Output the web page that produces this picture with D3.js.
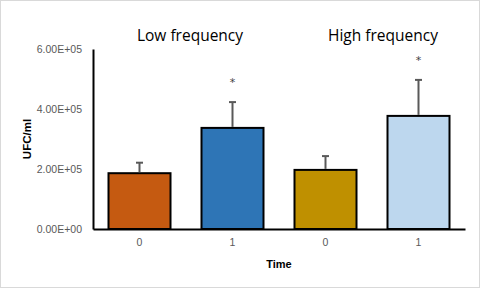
<!DOCTYPE html>
<html>
<head>
<meta charset="utf-8">
<script src="https://cdn.jsdelivr.net/npm/d3@7"></script>
<style>
  body { margin: 0; background: #fff; }
  svg { display: block; }
</style>
</head>
<body>
<svg id="chart" width="480" height="288"></svg>
<script>
const categories = ["0", "1", "0", "1"];
const groups = ["Low frequency", "High frequency"];
const values = [1.86e5, 3.37e5, 1.97e5, 3.77e5];
const errors = [0.35e5, 0.86e5, 0.46e5, 1.2e5];
const significant = [false, true, false, true];
const colors = ["#C55A11", "#2E75B6", "#BF9000", "#BDD7EE"];
const yTicks = [0, 2e5, 4e5, 6e5];

const w = 480, h = 288;
const margin = { top: 49, right: 15, bottom: 59, left: 93 };

const svg = d3.select("#chart");

// outer border like the spreadsheet chart area
svg.append("rect")
    .attr("x", 0.5).attr("y", 0.5)
    .attr("width", w - 1).attr("height", h - 1)
    .attr("fill", "#fff")
    .attr("stroke", "#d9d9d9");

const x = d3.scaleBand()
    .domain(d3.range(values.length))
    .range([margin.left, w - margin.right])
    .paddingInner(1 / 3)
    .paddingOuter(1 / 6);

const y = d3.scaleLinear()
    .domain([0, 6e5])
    .range([h - margin.bottom, margin.top]);

const chart = svg.append("g");

// --- bars ---
chart.selectAll("rect.bar")
    .data(values)
    .join("rect")
    .attr("class", "bar")
    .attr("x", (d, i) => x(i))
    .attr("y", d => y(d))
    .attr("width", x.bandwidth())
    .attr("height", d => y(0) - y(d))
    .attr("fill", (d, i) => colors[i])
    .attr("stroke", "#000")
    .attr("stroke-width", 2);

// --- error bars (upper only) ---
const err = chart.selectAll("g.err")
    .data(values)
    .join("g")
    .attr("class", "err");

err.append("line")
    .attr("x1", (d, i) => x(i) + x.bandwidth() / 2)
    .attr("x2", (d, i) => x(i) + x.bandwidth() / 2)
    .attr("y1", d => y(d) - 1)
    .attr("y2", (d, i) => y(d + errors[i]))
    .attr("stroke", "#595959")
    .attr("stroke-width", 2);

err.append("line")
    .attr("x1", (d, i) => x(i) + x.bandwidth() / 2 - 3.5)
    .attr("x2", (d, i) => x(i) + x.bandwidth() / 2 + 3.5)
    .attr("y1", (d, i) => y(d + errors[i]))
    .attr("y2", (d, i) => y(d + errors[i]))
    .attr("stroke", "#595959")
    .attr("stroke-width", 2);

// --- significance asterisks ---
chart.selectAll("text.sig")
    .data(values.map((d, i) => ({ d, i })).filter(o => significant[o.i]))
    .join("text")
    .attr("class", "sig")
    .attr("x", o => x(o.i) + x.bandwidth() / 2)
    .attr("y", o => y(o.d + errors[o.i]) - 16)
    .attr("text-anchor", "middle")
    .attr("font-family", "DejaVu Sans, sans-serif")
    .attr("font-size", 11)
    .attr("fill", "#404040")
    .text("*");

// --- axes ---
const yAxis = d3.axisLeft(y)
    .tickValues(yTicks)
    .tickSize(0)
    .tickPadding(11)
    .tickFormat(d => {
        const e = d === 0 ? 0 : Math.floor(Math.log10(d));
        const m = d / Math.pow(10, e);
        return m.toFixed(2) + "E+" + String(e).padStart(2, "0");
    });

chart.append("g")
    .attr("transform", `translate(${margin.left},0)`)
    .call(yAxis)
    .call(g => g.select(".domain").attr("stroke", "#000").attr("stroke-width", 2))
    .call(g => g.selectAll("text")
        .attr("fill", "#595959")
        .attr("font-family", "Liberation Sans, Arial, sans-serif")
        .attr("font-size", 10.5));

const xAxis = d3.axisBottom(x)
    .tickSize(0)
    .tickPadding(10)
    .tickFormat(i => categories[i]);

chart.append("g")
    .attr("transform", `translate(0,${y(0)})`)
    .call(xAxis)
    .call(g => g.select(".domain").attr("stroke", "#000").attr("stroke-width", 2))
    .call(g => g.selectAll("text")
        .attr("fill", "#595959")
        .attr("font-family", "Liberation Sans, Arial, sans-serif")
        .attr("font-size", 10.5));

// --- group labels (sit a little right of their bar pairs, as in the original) ---
const groupShift = [4, 11];
chart.selectAll("text.group")
    .data(groups)
    .join("text")
    .attr("class", "group")
    .attr("x", (d, i) => (x(i * 2) + x(i * 2 + 1) + x.bandwidth()) / 2 + groupShift[i])
    .attr("y", 41)
    .attr("text-anchor", "middle")
    .attr("font-family", "Open Sans, sans-serif")
    .attr("font-size", 15.5)
    .attr("fill", "#000")
    .text(d => d);

// --- axis titles ---
chart.append("text")
    .attr("transform", `translate(31,${(y(0) + y(6e5)) / 2}) rotate(-90)`)
    .attr("text-anchor", "middle")
    .attr("font-family", "Liberation Sans, Arial, sans-serif")
    .attr("font-weight", "bold")
    .attr("font-size", 11.5)
    .attr("fill", "#000")
    .text("UFC/ml");

chart.append("text")
    .attr("x", (margin.left + w - margin.right) / 2)
    .attr("y", 268)
    .attr("text-anchor", "middle")
    .attr("font-family", "Liberation Sans, Arial, sans-serif")
    .attr("font-weight", "bold")
    .attr("font-size", 11)
    .attr("fill", "#000")
    .text("Time");
</script>
</body>
</html>
